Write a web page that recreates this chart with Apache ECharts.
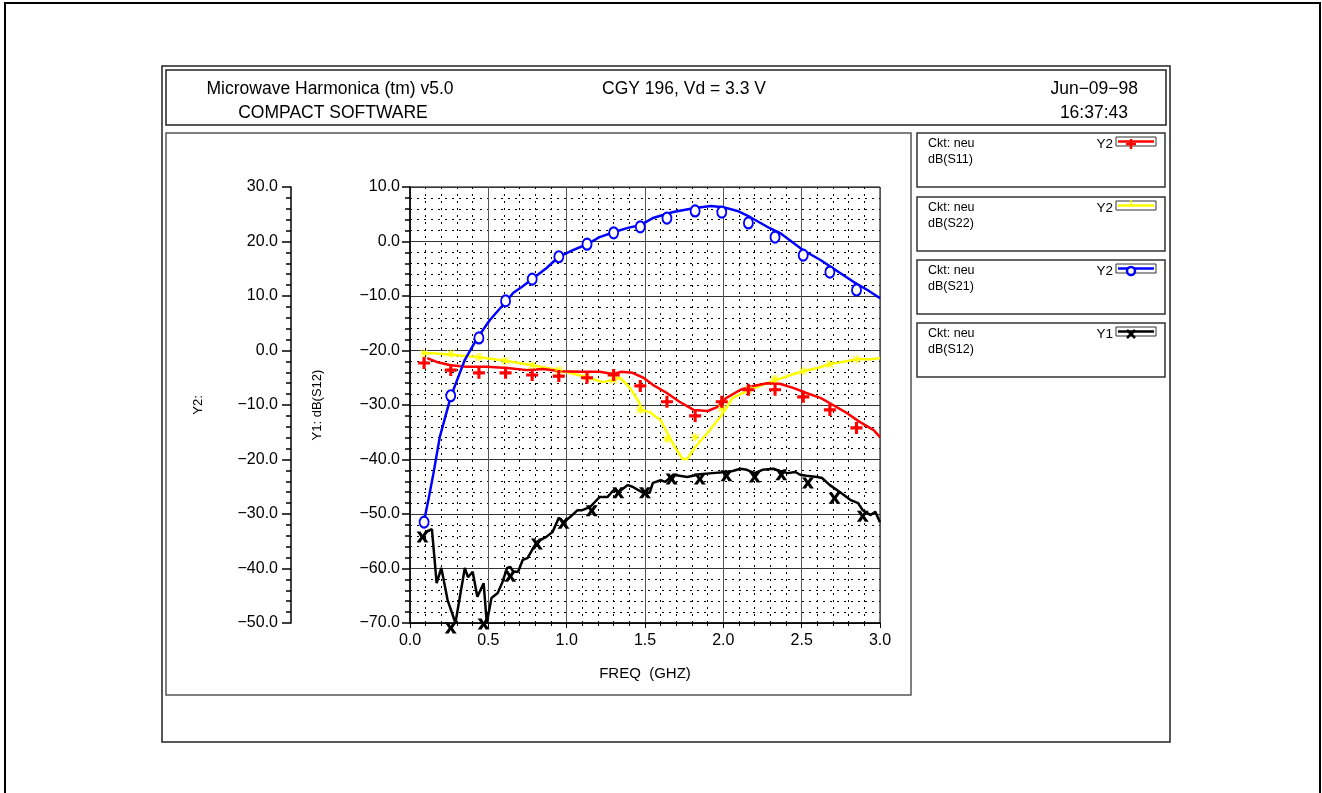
<!DOCTYPE html>
<html>
<head>
<meta charset="utf-8">
<script src="https://cdn.jsdelivr.net/npm/echarts@6/dist/echarts.min.js"></script>
<style>
  html, body { margin: 0; padding: 0; background: #fff; }
  #main { width: 1322px; height: 793px; }
</style>
</head>
<body>
<div id="main"></div>
<script>
// measured points (markers)
var markFreq = [0.09, 0.26, 0.44, 0.61, 0.78, 0.95, 1.13, 1.30, 1.47, 1.64, 1.82, 1.99, 2.16, 2.33, 2.51, 2.68, 2.85];
var s12MarkFreq = [0.08, 0.26, 0.47, 0.64, 0.81, 0.98, 1.16, 1.33, 1.50, 1.67, 1.85, 2.02, 2.20, 2.37, 2.54, 2.71, 2.89];
var s11Mark = [-2.3, -3.6, -4.1, -4.1, -4.5, -4.7, -5.0, -4.5, -6.5, -9.4, -12.0, -9.4, -7.2, -7.2, -8.5, -10.9, -14.2];
var s22Mark = [-0.5, -0.6, -1.2, -1.9, -2.7, -3.6, -4.9, -5.4, -10.9, -16.2, -15.9, -10.6, -7.2, -5.2, -3.8, -2.5, -1.6];
var s21Mark = [-31.5, -8.3, 2.3, 9.1, 13.1, 17.2, 19.5, 21.6, 22.7, 24.3, 25.6, 25.4, 23.4, 20.8, 17.5, 14.4, 11.1];
var s12Mark = [-54.2, -70.9, -70.2, -61.4, -55.5, -51.7, -49.4, -46.1, -46.1, -43.6, -43.6, -43.0, -43.2, -42.8, -44.3, -47.1, -50.4];

// simulated traces [freq GHz, dB]
var s11Trace = [[0.11, -1.4], [0.17, -2.1], [0.26, -2.7], [0.36, -3.0], [0.49, -3.0], [0.62, -3.2], [0.75, -3.6], [0.85, -3.4], [0.96, -3.8], [1.09, -3.9], [1.21, -3.9], [1.30, -4.3], [1.35, -3.9], [1.42, -4.1], [1.49, -5.0], [1.55, -6.3], [1.64, -7.8], [1.72, -9.4], [1.81, -10.9], [1.90, -11.1], [1.96, -10.4], [2.02, -8.7], [2.11, -7.2], [2.19, -6.5], [2.28, -6.0], [2.36, -6.1], [2.45, -6.9], [2.53, -7.8], [2.62, -8.7], [2.70, -10.0], [2.79, -11.5], [2.87, -13.1], [2.96, -14.6], [3.00, -15.9]];
var s22Trace = [[0.08, -0.5], [0.15, -0.5], [0.26, -0.8], [0.43, -1.2], [0.61, -1.9], [0.78, -2.7], [0.95, -3.6], [1.13, -4.9], [1.23, -5.8], [1.30, -5.4], [1.34, -5.0], [1.40, -6.7], [1.46, -9.4], [1.48, -10.9], [1.53, -11.3], [1.60, -12.8], [1.64, -15.0], [1.69, -17.7], [1.74, -19.9], [1.77, -19.9], [1.82, -17.7], [1.90, -15.1], [1.98, -12.2], [2.06, -8.7], [2.17, -7.2], [2.28, -6.0], [2.34, -5.4], [2.43, -4.5], [2.51, -3.8], [2.60, -3.2], [2.68, -2.5], [2.76, -2.1], [2.85, -1.6], [2.94, -1.6], [3.00, -1.4]];
var s21Trace = [[0.09, -31.3], [0.12, -27.0], [0.15, -22.5], [0.19, -15.9], [0.26, -8.5], [0.35, -1.7], [0.43, 2.3], [0.51, 5.6], [0.61, 8.9], [0.66, 10.6], [0.72, 11.8], [0.78, 13.1], [0.87, 15.1], [0.95, 17.2], [1.04, 18.4], [1.13, 19.5], [1.21, 20.8], [1.30, 21.7], [1.39, 22.5], [1.47, 23.0], [1.55, 24.3], [1.68, 25.4], [1.81, 26.1], [1.92, 26.5], [2.00, 26.3], [2.09, 25.6], [2.17, 24.5], [2.28, 22.7], [2.36, 21.6], [2.45, 19.7], [2.51, 18.4], [2.62, 16.6], [2.70, 15.1], [2.83, 12.6], [2.92, 11.1], [3.00, 9.6]];
var s12Trace = [[0.10, -53.3], [0.14, -52.8], [0.17, -62.7], [0.20, -59.9], [0.24, -65.8], [0.29, -70.0], [0.35, -59.9], [0.37, -61.6], [0.40, -60.6], [0.43, -65.2], [0.47, -62.7], [0.49, -70.0], [0.52, -65.4], [0.56, -64.5], [0.59, -62.5], [0.62, -59.9], [0.64, -59.7], [0.66, -60.6], [0.69, -60.6], [0.72, -58.4], [0.75, -58.1], [0.78, -56.6], [0.81, -55.1], [0.87, -54.2], [0.91, -53.3], [0.95, -50.7], [0.98, -51.5], [1.02, -50.6], [1.07, -49.3], [1.10, -49.3], [1.15, -48.7], [1.18, -47.8], [1.21, -46.9], [1.26, -46.9], [1.30, -45.6], [1.33, -46.0], [1.39, -44.7], [1.42, -45.0], [1.48, -46.0], [1.53, -46.1], [1.55, -44.3], [1.60, -43.8], [1.63, -44.1], [1.68, -42.8], [1.77, -43.2], [1.85, -42.7], [1.93, -42.5], [2.02, -42.3], [2.06, -42.1], [2.11, -41.7], [2.15, -41.9], [2.20, -42.5], [2.25, -41.9], [2.32, -41.7], [2.36, -42.1], [2.41, -42.5], [2.46, -42.3], [2.49, -42.8], [2.53, -43.0], [2.60, -43.2], [2.63, -43.4], [2.68, -44.7], [2.75, -46.1], [2.81, -47.4], [2.86, -48.0], [2.89, -49.3], [2.94, -50.2], [2.97, -49.6], [3.00, -51.5]];

var headerLeft = ["Microwave Harmonica (tm) v5.0", "COMPACT SOFTWARE"];
var headerMid = "CGY 196, Vd = 3.3 V";
var headerRight = ["Jun\u221209\u221298", "16:37:43"];
var legendNames = ["dB(S11)", "dB(S22)", "dB(S21)", "dB(S12)"];
var legendAxis = ["Y2", "Y2", "Y2", "Y1"];
var legendColors = ["#ff0000", "#ffff00", "#0000ff", "#000000"];

var FONT = "Liberation Sans";
var PLUS = "path://M3.7,0H6.3V3.7H10V6.3H6.3V10H3.7V6.3H0V3.7H3.7Z";
var CROSS = "path://M0,0H3.3L5,3L6.7,0H10L6.7,5L10,10H6.7L5,7L3.3,10H0L3.3,5Z";
var STAR = "path://M4.3,0H5.7V4.3H10V5.7H5.7V10H4.3V5.7H0V4.3H4.3Z M1,0.2L5,4.2L9,0.2L9.8,1L5.8,5L9.8,9L9,9.8L5,5.8L1,9.8L0.2,9L4.2,5L0.2,1Z";

function pairs(fs, vs) {
  return fs.map(function (f, i) { return [f, vs[i]]; });
}
function fmt(v) {
  return v.toFixed(1).replace("-", "\u2212");
}

var myChart = echarts.init(document.getElementById("main"));

// frames, header and legend boxes
var graphics = [
  { type: "rect", shape: { x: 5, y: 3, width: 1315, height: 810 }, style: { fill: null, stroke: "#000", lineWidth: 2 } },
  { type: "rect", shape: { x: 162, y: 66, width: 1008, height: 676 }, style: { fill: null, stroke: "#222", lineWidth: 1.5 } },
  { type: "rect", shape: { x: 166, y: 70, width: 1000, height: 55 }, style: { fill: null, stroke: "#222", lineWidth: 1.5 } },
  { type: "rect", shape: { x: 166, y: 133, width: 745, height: 562 }, style: { fill: null, stroke: "#555", lineWidth: 1.5 } },
  { type: "text", x: 330, y: 89, style: { text: headerLeft[0], font: "17.5px " + FONT, fill: "#000", textAlign: "center", textVerticalAlign: "middle" } },
  { type: "text", x: 333, y: 113, style: { text: headerLeft[1], font: "17.5px " + FONT, fill: "#000", textAlign: "center", textVerticalAlign: "middle" } },
  { type: "text", x: 684, y: 89, style: { text: headerMid, font: "17.5px " + FONT, fill: "#000", textAlign: "center", textVerticalAlign: "middle" } },
  { type: "text", x: 1138, y: 89, style: { text: headerRight[0], font: "17.5px " + FONT, fill: "#000", textAlign: "right", textVerticalAlign: "middle" } },
  { type: "text", x: 1128, y: 113, style: { text: headerRight[1], font: "17.5px " + FONT, fill: "#000", textAlign: "right", textVerticalAlign: "middle" } }
];

var boxTops = [133, 197, 260, 323];
boxTops.forEach(function (y0, i) {
  var c = legendColors[i];
  graphics.push(
    { type: "rect", shape: { x: 917, y: y0, width: 248, height: 54 }, style: { fill: null, stroke: "#333", lineWidth: 1.5 } },
    { type: "text", x: 928, y: y0 + 4, style: { text: "Ckt: neu", font: "12.5px " + FONT, fill: "#000" } },
    { type: "text", x: 928, y: y0 + 20, style: { text: legendNames[i], font: "12.5px " + FONT, fill: "#000" } },
    { type: "text", x: 1113, y: y0 + 4, style: { text: legendAxis[i], font: "13.5px " + FONT, fill: "#000", textAlign: "right" } },
    { type: "rect", shape: { x: 1116, y: y0 + 4, width: 40, height: 9 }, style: { fill: "#fff", stroke: "#333", lineWidth: 1 } },
    { type: "line", shape: { x1: 1118, y1: y0 + 8.5, x2: 1154, y2: y0 + 8.5 }, style: { stroke: c, lineWidth: 2.5 } }
  );
  var mx = 1131, my = y0 + 11;
  if (i === 0) {
    graphics.push(
      { type: "line", shape: { x1: mx - 5, y1: my, x2: mx + 5, y2: my }, style: { stroke: c, lineWidth: 2.5 } },
      { type: "line", shape: { x1: mx, y1: my - 5, x2: mx, y2: my + 5 }, style: { stroke: c, lineWidth: 2.5 } }
    );
  } else if (i === 1) {
    graphics.push(
      { type: "line", shape: { x1: mx, y1: y0 + 3, x2: mx, y2: y0 + 9 }, style: { stroke: c, lineWidth: 1.5 } }
    );
  } else if (i === 2) {
    graphics.push(
      { type: "ellipse", shape: { cx: mx, cy: my, rx: 4, ry: 4 }, style: { fill: "#fff", stroke: c, lineWidth: 2.5 } }
    );
  } else {
    graphics.push(
      { type: "line", shape: { x1: mx - 4, y1: my - 4, x2: mx + 4, y2: my + 4 }, style: { stroke: c, lineWidth: 2.5 } },
      { type: "line", shape: { x1: mx + 4, y1: my - 4, x2: mx - 4, y2: my + 4 }, style: { stroke: c, lineWidth: 2.5 } }
    );
  }
});

var axisFont = { color: "#000", fontSize: 16, fontFamily: FONT };

myChart.setOption({
  backgroundColor: "#fff",
  animation: false,
  graphic: graphics,
  grid: {
    left: 410,
    top: 187,
    width: 470,
    height: 436,
    show: true,
    borderColor: "#000",
    borderWidth: 1
  },
  xAxis: {
    type: "value",
    min: 0,
    max: 3,
    interval: 0.5,
    name: "FREQ  (GHZ)",
    nameLocation: "middle",
    nameGap: 43,
    nameTextStyle: { color: "#000", fontSize: 15, fontFamily: FONT },
    axisLine: { onZero: false, lineStyle: { color: "#000", width: 1.5 } },
    axisTick: { length: 5, lineStyle: { color: "#000" } },
    minorTick: { show: true, splitNumber: 5, length: 3, lineStyle: { color: "#000" } },
    axisLabel: { formatter: fmt, margin: 10, ...axisFont },
    splitLine: { lineStyle: { color: "#555", width: 1 } },
    minorSplitLine: { show: true, lineStyle: { color: "#000", width: 1, type: [2, 5] } }
  },
  yAxis: [
    {
      type: "value",
      min: -70,
      max: 10,
      interval: 10,
      position: "left",
      name: "Y1: dB(S12)",
      nameLocation: "middle",
      nameGap: 86,
      nameRotate: 90,
      nameTextStyle: { color: "#000", fontSize: 13, fontFamily: FONT },
      axisLine: { show: true, onZero: false, lineStyle: { color: "#000", width: 1.5 } },
      axisTick: { show: true, length: 8, lineStyle: { color: "#000", width: 1.5 } },
      minorTick: { show: true, splitNumber: 5, length: 5, lineStyle: { color: "#000", width: 1.5 } },
      axisLabel: { formatter: fmt, margin: 10, ...axisFont },
      splitLine: { lineStyle: { color: "#333", width: 1 } },
      minorSplitLine: { show: true, lineStyle: { color: "#000", width: 1, type: [2, 5] } }
    },
    {
      type: "value",
      min: -50,
      max: 30,
      interval: 10,
      position: "left",
      offset: 119,
      name: "Y2:",
      nameLocation: "middle",
      nameGap: 86,
      nameRotate: 90,
      nameTextStyle: { color: "#000", fontSize: 13, fontFamily: FONT },
      axisLine: { show: true, onZero: false, lineStyle: { color: "#000", width: 1.5 } },
      axisTick: { show: true, length: 9, lineStyle: { color: "#000", width: 1.5 } },
      minorTick: { show: true, splitNumber: 5, length: 5, lineStyle: { color: "#000", width: 1.5 } },
      axisLabel: { formatter: fmt, margin: 13, ...axisFont },
      splitLine: { show: false }
    }
  ],
  series: [
    {
      name: "dB(S22)", type: "line", yAxisIndex: 1, data: s22Trace, symbol: "none",
      lineStyle: { color: "#ffff00", width: 2.5 }, z: 3
    },
    {
      name: "dB(S22) meas", type: "scatter", yAxisIndex: 1, data: pairs(markFreq, s22Mark),
      symbol: STAR, symbolSize: 8, itemStyle: { color: "#ffff00", opacity: 1 }, clip: false, z: 4
    },
    {
      name: "dB(S11)", type: "line", yAxisIndex: 1, data: s11Trace, symbol: "none",
      lineStyle: { color: "#ff0000", width: 2.5 }, z: 3
    },
    {
      name: "dB(S11) meas", type: "scatter", yAxisIndex: 1, data: pairs(markFreq, s11Mark),
      symbol: PLUS, symbolSize: 12, itemStyle: { color: "#ff0000", opacity: 1 }, clip: false, z: 4
    },
    {
      name: "dB(S12)", type: "line", yAxisIndex: 0, data: s12Trace, symbol: "none",
      lineStyle: { color: "#000", width: 2.5 }, z: 3
    },
    {
      name: "dB(S12) meas", type: "scatter", yAxisIndex: 0, data: pairs(s12MarkFreq, s12Mark),
      symbol: CROSS, symbolSize: [12, 11], itemStyle: { color: "#000", opacity: 1 }, clip: false, z: 4
    },
    {
      name: "dB(S21)", type: "line", yAxisIndex: 1, data: s21Trace, symbol: "none",
      lineStyle: { color: "#0000ff", width: 2.5 }, z: 3
    },
    {
      name: "dB(S21) meas", type: "scatter", yAxisIndex: 1, data: pairs(markFreq, s21Mark),
      symbol: "emptyCircle", symbolSize: [9, 11],
      itemStyle: { color: "#0000ff", borderColor: "#0000ff", borderWidth: 3, opacity: 1 }, clip: false, z: 4
    }
  ]
});
</script>
</body>
</html>
